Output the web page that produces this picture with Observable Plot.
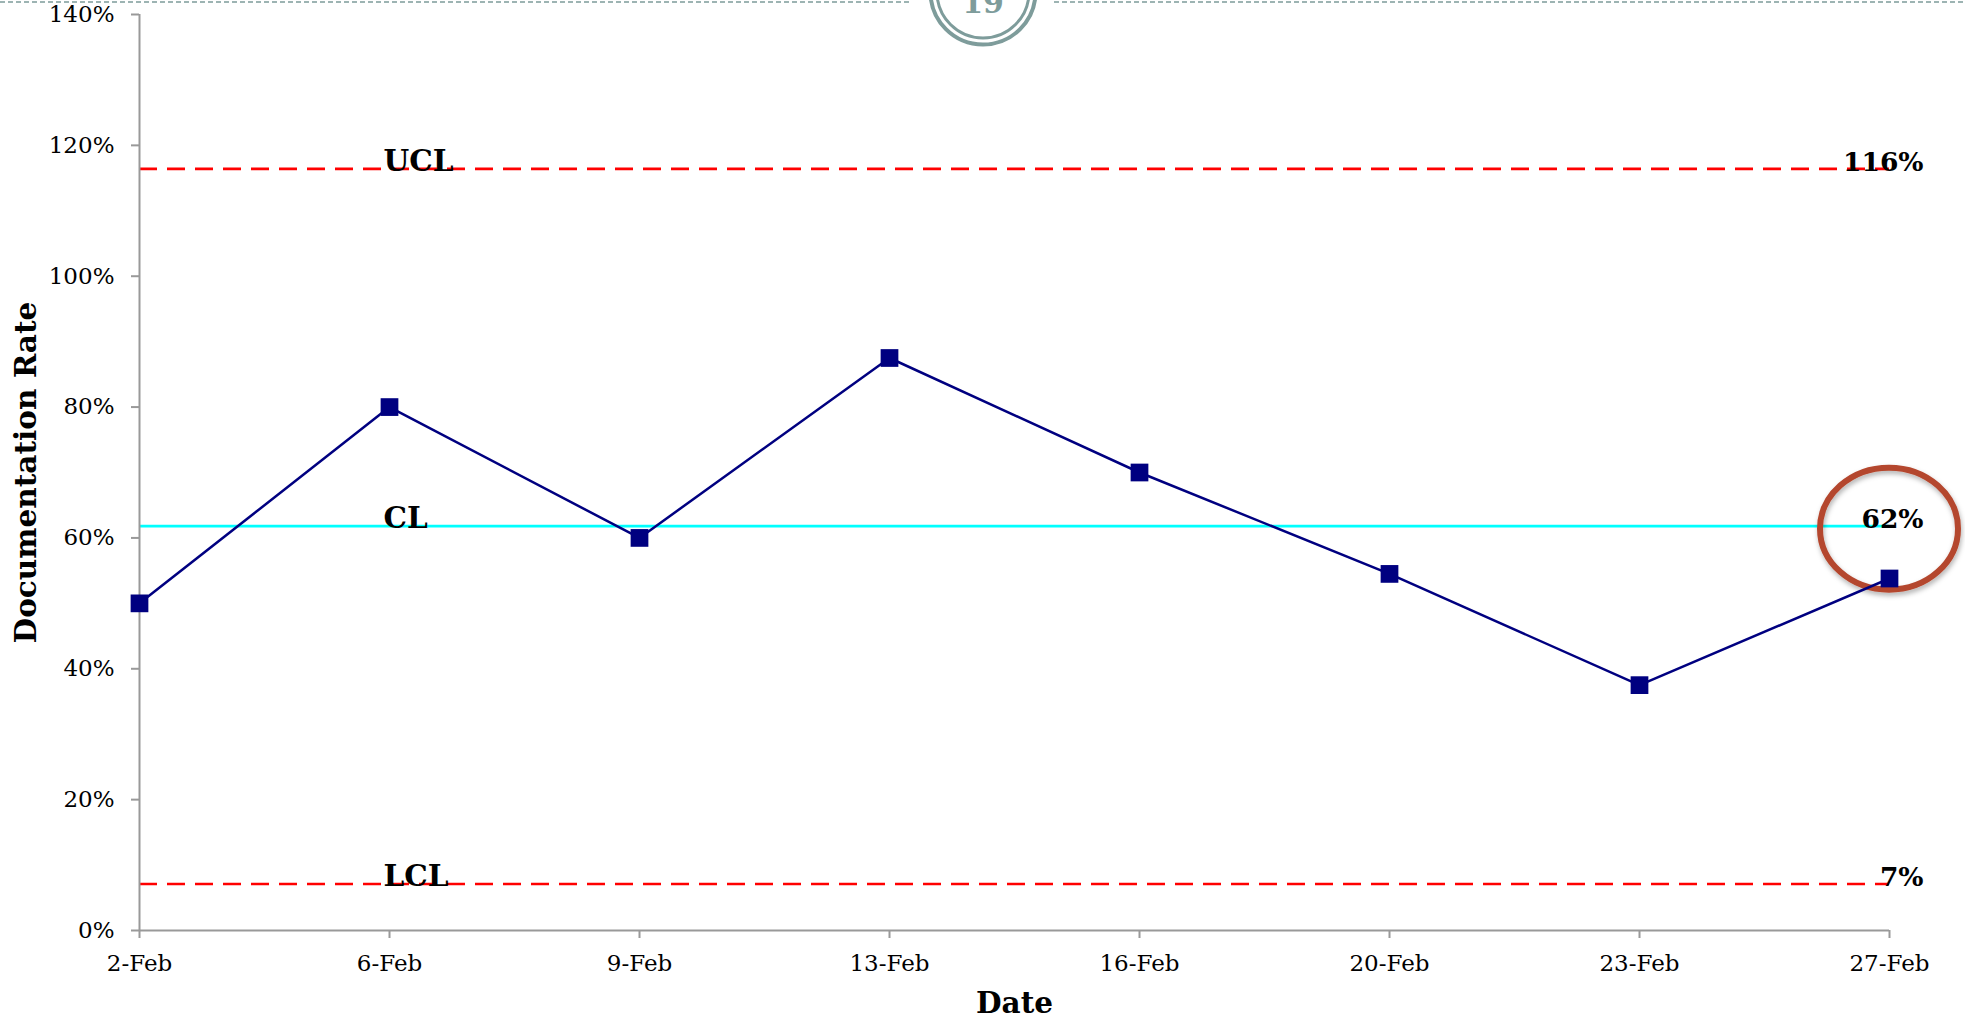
<!DOCTYPE html>
<html>
<head>
<meta charset="utf-8">
<script src="https://cdn.jsdelivr.net/npm/d3@7"></script>
<script src="https://cdn.jsdelivr.net/npm/@observablehq/plot@0.6"></script>
<style>
  html, body { margin: 0; padding: 0; background: #fff; }
  #chart { position: relative; width: 1965px; height: 1020px; }
</style>
</head>
<body>
<div id="chart"></div>
<script>
// ---- data ----
const dates = ["2-Feb","6-Feb","9-Feb","13-Feb","16-Feb","20-Feb","23-Feb","27-Feb"];
const rates = [0.50, 0.80, 0.60, 0.875, 0.70, 0.545, 0.375, 0.538];
const limitNames = ["UCL", "CL", "LCL"];
const limitValues = [1.164, 0.618, 0.071];
const limitLabels = ["116%", "62%", "7%"];
const yTicks = [0, 0.2, 0.4, 0.6, 0.8, 1.0, 1.2, 1.4];
const pageNumber = "19";

const points = dates.map((d, i) => ({date: d, rate: rates[i]}));
const limits = limitNames.map((n, i) => ({name: n, value: limitValues[i], label: limitLabels[i]}));
const ctrlLimits = limits.filter(d => d.name !== "CL");
const centerLine = limits.filter(d => d.name === "CL");

const serif = "DejaVu Serif";
const W = 1965, H = 1020;

const plot = Plot.plot({
  width: W,
  height: H,
  marginLeft: 139,
  marginRight: 76,
  marginTop: 14,
  marginBottom: 90,
  style: {fontFamily: serif, fontSize: "23px", color: "#000", background: "#fff"},
  x: {type: "point", domain: dates, padding: 0, label: null},
  y: {domain: [0, 1.4], label: null},
  marks: [
    Plot.ruleY(centerLine, {y: "value", stroke: "#00FFFF", strokeWidth: 2.6}),
    Plot.ruleY(ctrlLimits, {y: "value", stroke: "#FF0000", strokeWidth: 2.6, strokeDasharray: "18,10"}),
    Plot.ruleY([0], {stroke: "#999", strokeWidth: 2}),
    Plot.ruleX([dates[0]], {stroke: "#999", strokeWidth: 2}),
    Plot.axisY({ticks: yTicks, tickFormat: d3.format(".0%"), tickSize: 8, tickPadding: 17, stroke: "#999", strokeWidth: 2, strokeOpacity: 1, fontSize: 23, label: null}),
    Plot.axisX({tickSize: 8, tickPadding: 16, stroke: "#999", strokeWidth: 2, strokeOpacity: 1, fontSize: 23, label: null}),
    Plot.line(points, {x: "date", y: "rate", stroke: "#000080", strokeWidth: 2.5}),
    Plot.dot(points, {x: "date", y: "rate", symbol: "square", r: 10, fill: "#000080", stroke: "none"}),
    Plot.text(limits, {x: () => dates[1], y: "value", text: "name", textAnchor: "start", lineAnchor: "bottom", dx: -6, dy: 2, fontWeight: "bold", fontSize: 29.5, fill: "#000"}),
    Plot.text(limits, {x: () => dates[dates.length - 1], y: "value", text: "label", textAnchor: "end", lineAnchor: "bottom", dx: 34, dy: 2, fontWeight: "bold", fontSize: 26.5, fill: "#000"}),
    Plot.text(["Date"], {frameAnchor: "bottom", text: d => d, lineAnchor: "bottom", dy: 82, fontWeight: "bold", fontSize: 29.5, fill: "#000"}),
    Plot.text(["Documentation Rate"], {frameAnchor: "left", text: d => d, rotate: -90, textAnchor: "middle", lineAnchor: "middle", dx: -113, fontWeight: "bold", fontSize: 29.5, fill: "#000"})
  ]
});

document.getElementById("chart").appendChild(plot);

// ---- annotation ellipse around the last point / CL label ----
const svg = d3.select(plot);
const xs = plot.scale("x"), ys = plot.scale("y");
const cx = xs.apply(dates[dates.length - 1]);
const cy = ys.apply(limitValues[1]) + 3;
const defs = svg.insert("defs", ":first-child");
const f = defs.append("filter").attr("id", "shadow").attr("x", "-20%").attr("y", "-20%").attr("width", "140%").attr("height", "140%");
f.append("feDropShadow").attr("dx", 1).attr("dy", 3).attr("stdDeviation", 2.5).attr("flood-color", "#000").attr("flood-opacity", 0.3);
const lineG = svg.select('g[aria-label="line"]').node();
svg.insert("ellipse", () => lineG)
  .attr("cx", cx).attr("cy", cy).attr("rx", 69).attr("ry", 61)
  .attr("fill", "none").attr("stroke", "#B4472E").attr("stroke-width", 6)
  .attr("filter", "url(#shadow)");

// ---- page decoration at top ----
const teal = "#7E9C9B";
const midX = 983;
svg.append("line").attr("x1", 0).attr("x2", 912).attr("y1", 2).attr("y2", 2)
  .attr("stroke", teal).attr("stroke-width", 1.5).attr("stroke-dasharray", "5,3");
svg.append("line").attr("x1", 1054).attr("x2", W).attr("y1", 2).attr("y2", 2)
  .attr("stroke", teal).attr("stroke-width", 1.5).attr("stroke-dasharray", "5,3");
svg.append("circle").attr("cx", midX).attr("cy", -8).attr("r", 52.5)
  .attr("fill", "#fff").attr("stroke", teal).attr("stroke-width", 4);
svg.append("circle").attr("cx", midX).attr("cy", -8).attr("r", 46)
  .attr("fill", "none").attr("stroke", teal).attr("stroke-width", 3);
svg.append("text").attr("x", midX).attr("y", 13).attr("text-anchor", "middle")
  .attr("font-family", serif).attr("font-weight", "bold").attr("font-size", 30)
  .attr("fill", teal).text(pageNumber);
</script>
</body>
</html>
